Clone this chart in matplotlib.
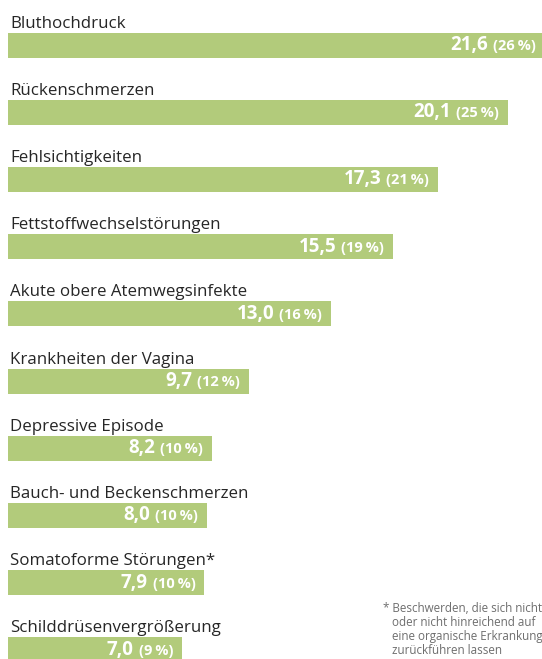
import matplotlib
matplotlib.use("Agg")
import matplotlib.pyplot as plt

# data
categories = [
    "Bluthochdruck",
    "Rückenschmerzen",
    "Fehlsichtigkeiten",
    "Fettstoffwechselstörungen",
    "Akute obere Atemwegsinfekte",
    "Krankheiten der Vagina",
    "Depressive Episode",
    "Bauch- und Beckenschmerzen",
    "Somatoforme Störungen*",
    "Schilddrüsenvergrößerung",
]
values = [21.6, 20.1, 17.3, 15.5, 13.0, 9.7, 8.2, 8.0, 7.9, 7.0]
shares = [26, 25, 21, 19, 16, 12, 10, 10, 10, 9]
footnote = ("* Beschwerden, die sich nicht\n"
            "   oder nicht hinreichend auf\n"
            "   eine organische Erkrankung\n"
            "   zurückführen lassen")

BAR = "#b2cb7b"
W, H = 542, 659
plt.rcParams["font.family"] = ["Open Sans", "DejaVu Sans"]

fig = plt.figure(figsize=(W / 100, H / 100), dpi=100)
ax = fig.add_axes([0, 0, 1, 1])

# pixel geometry: bars start at x=8 px, 24.86 px per unit; rows 67.2 px apart
px_unit = 24.86
row = 67.2
x0 = -8 / px_unit
ax.set_xlim(x0, x0 + W / px_unit)
ax.set_ylim((H - 45) / row, -45 / row)
ax.axis("off")

ys = list(range(len(categories)))
ax.barh(ys, values, height=25 / row, color=BAR, left=0)

fig.canvas.draw()
renderer = fig.canvas.get_renderer()

for y, cat, v, s in zip(ys, categories, values, shares):
    ax.text(2 / px_unit, y - 17.5 / row, cat, fontsize=12.2, color="#262626",
            ha="left", va="baseline")
    xr = v - 9 / px_unit
    yb = y + 5 / row
    pct = ax.text(xr, yb, f"({s}\u2009%)", fontsize=10.5, fontweight="bold",
                  color="white", ha="right", va="baseline")
    bb = pct.get_window_extent(renderer)
    xv = ax.transData.inverted().transform((bb.x0 - 5, 0))[0]
    ax.text(xv, yb, f"{v:.1f}".replace(".", ","), fontsize=13.5,
            fontweight="bold", color="white", ha="right", va="baseline")

# multi-line baseline alignment uses the last line
fig.text(383 / W, 1 - 654 / H, footnote, fontsize=8.4, color="#6e6e6e",
         ha="left", va="baseline", linespacing=1.1)

fig.savefig("out.png", dpi=100)
